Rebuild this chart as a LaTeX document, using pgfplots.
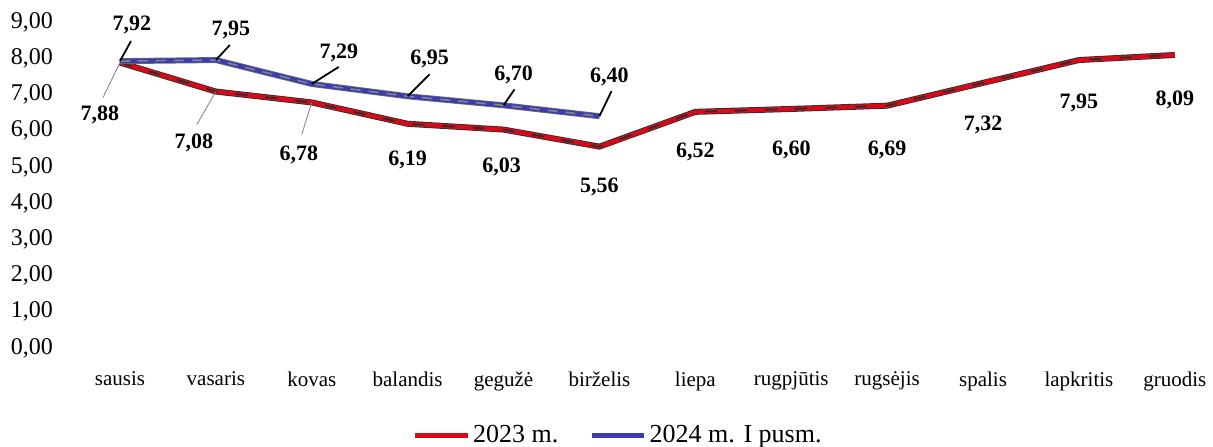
\documentclass[border=0pt]{standalone}
\usepackage{pgfplots}
\pgfplotsset{compat=1.18}
\usepackage{fontspec}
\setmainfont{Liberation Serif}
\definecolor{redline}{RGB}{215,10,25}
\definecolor{blueline}{RGB}{60,60,175}
\definecolor{shadow}{RGB}{45,45,45}
\definecolor{greyl}{RGB}{130,130,150}
\begin{document}
\begin{tikzpicture}
\begin{axis}[
  scale only axis,
  width=570.6pt, height=163pt,
  xmin=-0.5, xmax=11.4,
  ymin=0, ymax=9,
  axis line style={draw=none},
  tick style={draw=none},
  xtick={0,...,11},
  xticklabels={sausis,vasaris,kovas,balandis,gegužė,birželis,liepa,rugpjūtis,rugsėjis,spalis,lapkritis,gruodis},
  xticklabel style={font=\fontsize{10.5}{12}\selectfont, yshift=-8.5pt},
  ytick={0,1,...,9},
  yticklabel style={font=\fontsize{12}{14}\selectfont, xshift=-6pt},
  /pgf/number format/.cd, use comma, fixed, fixed zerofill, precision=2, assume math mode=true,
  /pgfplots/.cd,
  legend style={draw=none, at={(0.479,-0.268)}, anchor=center, legend columns=2,
    font=\fontsize{13}{15}\selectfont,
    nodes={inner xsep=1.5pt},
    /tikz/every even column/.append style={column sep=14pt}},
  legend image code/.code={\draw[#1] (0cm,0cm) -- (0.93cm,0cm);},
  clip=false,
]
% 2023
\addplot[shadow, line width=3pt, forget plot] coordinates {
(0,7.88) (1,7.08) (2,6.78) (3,6.19) (4,6.03) (5,5.56) (6,6.52) (7,6.60) (8,6.69) (9,7.32) (10,7.95) (11,8.09)};
\addplot[redline, line width=2.2pt] coordinates {
(0,7.88) (1,7.08) (2,6.78) (3,6.19) (4,6.03) (5,5.56) (6,6.52) (7,6.60) (8,6.69) (9,7.32) (10,7.95) (11,8.09)};
\addlegendentry{2023 m.}
\addplot[shadow, line width=0.9pt, dash pattern=on 6pt off 9pt, forget plot] coordinates {
(0,7.88) (1,7.08) (2,6.78) (3,6.19) (4,6.03) (5,5.56) (6,6.52) (7,6.60) (8,6.69) (9,7.32) (10,7.95) (11,8.09)};
% 2024
\addplot[shadow!70, line width=3pt, forget plot] coordinates {
(0,7.92) (1,7.95) (2,7.29) (3,6.95) (4,6.70) (5,6.40)};
\addplot[blueline, line width=2.2pt] coordinates {
(0,7.92) (1,7.95) (2,7.29) (3,6.95) (4,6.70) (5,6.40)};
\addlegendentry{2024 m. I pusm.}
\addplot[greyl, line width=0.8pt, dash pattern=on 5pt off 4pt, forget plot] coordinates {
(0,7.92) (1,7.95) (2,7.29) (3,6.95) (4,6.70) (5,6.40)};

% leader lines 2024
\draw[black, line width=0.9pt] (axis cs:0,7.92) -- ++(5.5pt,10pt);
\draw[black, line width=0.9pt] (axis cs:1,7.95) -- ++(7pt,7.5pt);
\draw[black, line width=0.9pt] (axis cs:2,7.29) -- ++(13.5pt,8.5pt);
\draw[black, line width=0.9pt] (axis cs:3,6.95) -- ++(11pt,11pt);
\draw[black, line width=0.9pt] (axis cs:4,6.70) -- ++(5.5pt,8pt);
\draw[black, line width=0.9pt] (axis cs:5,6.40) -- ++(6pt,12.5pt);
% leader lines 2023
\draw[gray, line width=0.4pt] (axis cs:0,7.88) -- ++(-8.5pt,-17.5pt);
\draw[gray, line width=0.4pt] (axis cs:1,7.08) -- ++(-9.5pt,-16.5pt);
\draw[gray, line width=0.4pt] (axis cs:2,6.78) -- ++(-5pt,-16pt);

\tikzset{lbl/.style={font=\bfseries\fontsize{11}{13}\selectfont, inner sep=0pt}}
% labels 2024
\node[lbl] at ([xshift=6pt,yshift=18pt]axis cs:0,7.92) {7,92};
\node[lbl] at ([xshift=7.5pt,yshift=15pt]axis cs:1,7.95) {7,95};
\node[lbl] at ([xshift=13.5pt,yshift=15.5pt]axis cs:2,7.29) {7,29};
\node[lbl] at ([xshift=11pt,yshift=18.5pt]axis cs:3,6.95) {6,95};
\node[lbl] at ([xshift=5pt,yshift=15pt]axis cs:4,6.70) {6,70};
\node[lbl] at ([xshift=5pt,yshift=19.5pt]axis cs:5,6.40) {6,40};
% labels 2023
\node[lbl] at ([xshift=-10pt,yshift=-26pt]axis cs:0,7.88) {7,88};
\node[lbl] at ([xshift=-11pt,yshift=-25.5pt]axis cs:1,7.08) {7,08};
\node[lbl] at ([xshift=-6.5pt,yshift=-26pt]axis cs:2,6.78) {6,78};
\node[lbl] at ([yshift=-18pt]axis cs:3,6.19) {6,19};
\node[lbl] at ([xshift=-1pt,yshift=-18.6pt]axis cs:4,6.03) {6,03};
\node[lbl] at ([yshift=-20pt]axis cs:5,5.56) {5,56};
\node[lbl] at ([yshift=-20pt]axis cs:6,6.52) {6,52};
\node[lbl] at ([yshift=-20.5pt]axis cs:7,6.60) {6,60};
\node[lbl] at ([yshift=-22pt]axis cs:8,6.69) {6,69};
\node[lbl] at ([yshift=-21pt]axis cs:9,7.32) {7,32};
\node[lbl] at ([yshift=-21.5pt]axis cs:10,7.95) {7,95};
\node[lbl] at ([yshift=-22.5pt]axis cs:11,8.09) {8,09};
\end{axis}
\pgfresetboundingbox
\path[use as bounding box] (-36pt,-49pt) rectangle (570.5pt,174pt);
\end{tikzpicture}
\end{document}
